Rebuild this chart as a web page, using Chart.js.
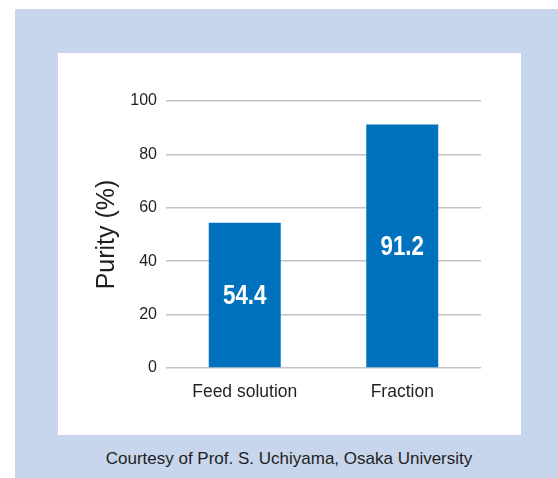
<!DOCTYPE html>
<html>
<head>
<meta charset="utf-8">
<script src="https://cdn.jsdelivr.net/npm/chart.js@4"></script>
<style>
  body { margin: 0; background: #fff; font-family: "Liberation Sans", Arial, sans-serif; }
  #frame { position: absolute; left: 15px; top: 9px; width: 543px; height: 469px; background: #c7d5ed; }
  #panel { position: absolute; left: 58px; top: 53px; width: 463px; height: 382px; background: #fff; }
  #credit { position: absolute; left: 10px; width: 558px; top: 449px; text-align: center; font-size: 17px; color: #231f20; }
</style>
</head>
<body>
<div id="frame"></div>
<div id="panel"><canvas id="myChart" width="463" height="382"></canvas></div>
<div id="credit">Courtesy of Prof. S. Uchiyama, Osaka University</div>
<script>
const categories = ['Feed solution', 'Fraction'];
const purity = [54.4, 91.2];
const yTicks = [0, 20, 40, 60, 80, 100];

// white numbers in the middle of each bar (squeezed, like a condensed bold face)
const barLabels = {
  id: 'barLabels',
  afterDatasetsDraw(chart) {
    const c = chart.ctx;
    const meta = chart.getDatasetMeta(0);
    c.fillStyle = '#fff';
    c.font = 'bold 28px "Liberation Sans", sans-serif';
    c.textAlign = 'center';
    c.textBaseline = 'middle';
    meta.data.forEach((bar, i) => {
      c.save();
      c.translate(bar.x, (bar.y + bar.base) / 2 + 1);
      c.scale(0.8, 1);
      c.fillText(purity[i].toFixed(1), 0, 0);
      c.restore();
    });
  }
};

const ctx = document.getElementById('myChart').getContext('2d');
const myChart = new Chart(ctx, {
  type: 'bar',
  data: {
    labels: categories,
    datasets: [{
      label: 'Purity',
      data: purity,
      backgroundColor: '#0071bc',
      barPercentage: 0.457,
      categoryPercentage: 1,
    }],
  },
  options: {
    responsive: false,
    animation: false,
    layout: { padding: { top: 48, right: 40, left: 0, bottom: 0 } },
    plugins: { legend: { display: false }, tooltip: { enabled: false } },
    scales: {
      x: {
        grid: { display: false, drawTicks: false },
        border: { display: false },
        ticks: { color: '#231f20', padding: 14, font: { family: 'Liberation Sans', size: 17.5 } },
        afterFit(scale) { scale.height = 67; },
      },
      y: {
        min: 0,
        max: 100,
        afterBuildTicks(scale) { scale.ticks = yTicks.map(v => ({ value: v })); },
        grid: { color: '#c3c3c7', lineWidth: 1.6, drawTicks: false },
        border: { display: false },
        ticks: { color: '#231f20', padding: 9, font: { family: 'Liberation Sans', size: 16 } },
        title: {
          display: true,
          text: 'Purity (%)',
          color: '#231f20',
          font: { family: 'Liberation Sans', size: 25 },
          padding: { top: 34, bottom: 0 },
        },
        afterFit(scale) { scale.width = 108; },
      },
    },
  },
  plugins: [barLabels],
});
</script>
</body>
</html>
